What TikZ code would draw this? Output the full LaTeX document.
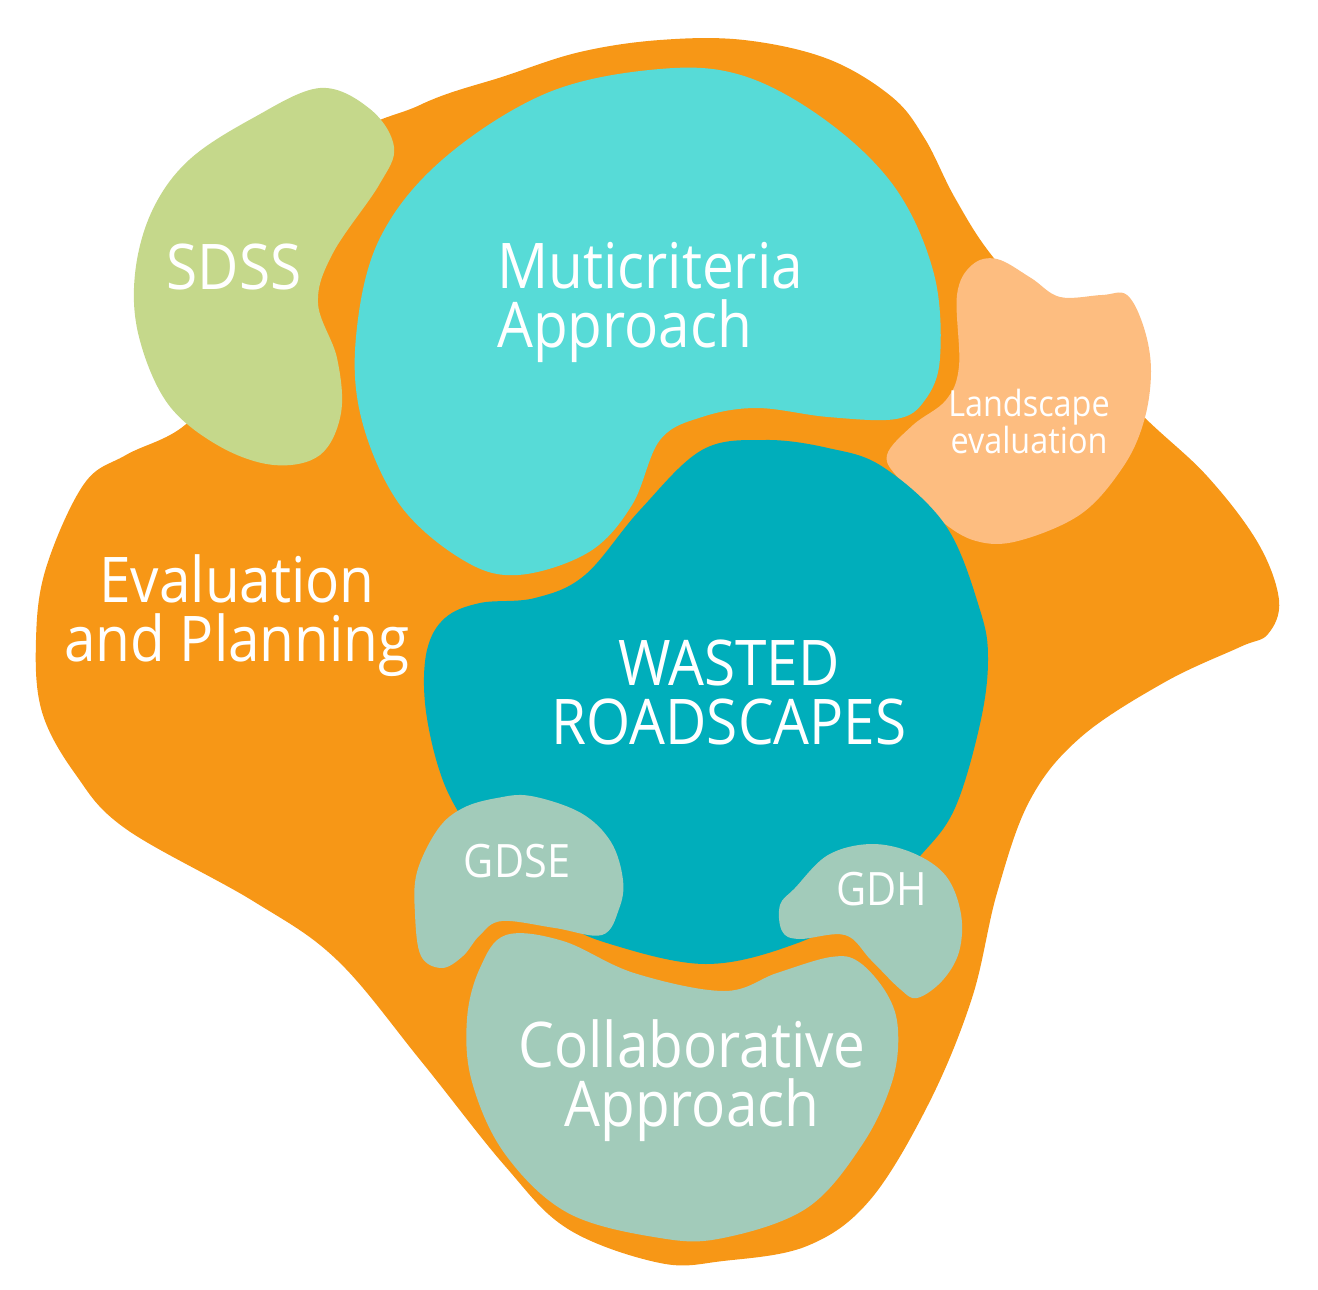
\documentclass[tikz,border=0pt]{standalone}
\usepackage{fontspec}
\setmainfont{Open Sans}[FakeStretch=0.9]
\usepackage{xcolor}
\definecolor{frame}{RGB}{247,151,22}
\definecolor{multi}{RGB}{87,219,215}
\definecolor{wasted}{RGB}{0,174,187}
\definecolor{sdss}{RGB}{197,216,139}
\definecolor{land}{RGB}{253,189,128}
\definecolor{collab}{RGB}{162,203,186}

\begin{document}
\begin{tikzpicture}[
    x=1pt, y=-1pt,
    blob/.style={smooth cycle, tension=0.6},
    tag/.style={inner sep=0pt, text=white},
    big/.style={tag, font=\fontsize{63}{59}\selectfont},
    small/.style={tag, font=\fontsize{36}{34}\selectfont},
    mid/.style={tag, font=\fontsize{46}{46}\selectfont}
]
\useasboundingbox (0,0) rectangle (1318,1290);

% outer frame
\fill[frame] plot[blob] coordinates {(240,360) (330,160) (420,105) (505,76) (580,52) (660,40) (744,40) (828,59) (892,97) (925,139) (955,198) (993,257) (1060,330) (1142,415) (1207,476) (1258,543) (1279,600) (1268,634) (1240,647) (1165,682) (1081,737) (1030,800) (997,893) (972,998) (929,1103) (870,1200) (807,1246) (723,1261) (660,1263) (568,1229) (505,1166) (421,1061) (337,960) (253,901) (126,829) (76,775) (42,712) (36,640) (46,568) (84,484) (126,455) (185,425)};

\fill[sdss] plot[blob] coordinates {(320,88) (370,109) (394,147) (379,185) (333,253) (318,303) (337,358) (341,413) (320,455) (274,465) (219,446) (168,404) (139,337) (135,274) (152,211) (189,160) (253,118)};

\fill[multi] plot[blob] coordinates {(660,69) (744,76) (828,122) (896,189) (934,274) (940,358) (925,400) (896,419) (828,417) (757,408) (702,417) (660,440) (632,505) (589,552) (518,575) (463,560) (400,505) (362,421) (356,337) (379,240) (442,160) (547,93)};

\fill[land] plot[blob] coordinates {(997,259) (1031,278) (1060,297) (1102,295) (1127,295) (1144,328) (1151,371) (1144,421) (1123,467) (1081,514) (1018,541) (976,541) (940,520) (900,480) (887,455) (913,425) (946,400) (959,366) (957,295) (972,265)};

\fill[wasted] plot[blob] coordinates {(702,450) (765,440) (828,448) (883,467) (946,526) (980,610) (988,660) (980,724) (955,808) (921,855) (870,905) (795,944) (706,964) (610,944) (560,920) (500,870) (459,813) (438,766) (425,703) (427,650) (445,618) (480,603) (535,598) (585,575) (640,510)};

\fill[collab] plot[blob] coordinates {(871,844) (913,853) (946,876) (961,914) (959,952) (942,981) (917,998) (900,989) (871,960) (845,935) (799,939) (782,931) (780,905) (795,888) (828,855)};

\fill[collab] plot[blob] coordinates {(531,796) (581,813) (611,842) (623,880) (619,909) (602,935) (555,928) (502,921) (480,935) (463,956) (442,968) (421,956) (415,914) (417,872) (438,829) (463,808) (497,798)};

\fill[collab] plot[blob] coordinates {(506,935) (563,941) (634,973) (724,991) (777,973) (831,957) (859,962) (887,994) (898,1030) (892,1082) (862,1145) (807,1208) (723,1238) (660,1238) (568,1213) (505,1154) (472,1082) (467,1019) (480,968)};

\node[big, anchor=west, align=left] (mca) at (497,302) {Muticriteria\\Approach};
\node[big] (sdsslbl) at (234,267) {SDSS};
\node[big, align=center] (evplan) at (237,616) {Evaluation\\and Planning};
\node[big, align=center] (wr) at (729,692) {WASTED\\ROADSCAPES};
\node[small, align=center] (landev) at (1029,421) {Landscape\\evaluation};
\node[mid] (gdse) at (517,861) {GDSE};
\node[mid] (gdh) at (882,889) {GDH};
\node[big, align=center] (colap) at (692,1081) {Collaborative\\Approach};
\end{tikzpicture}
\end{document}
